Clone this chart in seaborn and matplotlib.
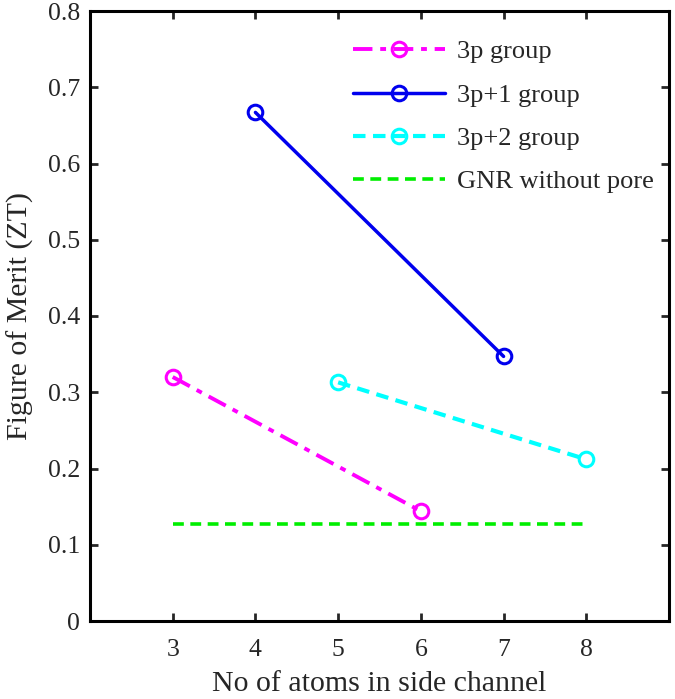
import matplotlib
matplotlib.use("Agg")
import matplotlib.pyplot as plt
import seaborn as sns
import pandas as pd
from matplotlib.ticker import FuncFormatter

# Data
x_3p = [3, 6]
y_3p = [0.320, 0.144]
x_3p1 = [4, 7]
y_3p1 = [0.667, 0.347]
x_3p2 = [5, 8]
y_3p2 = [0.313, 0.212]
x_gnr = [3, 8]
y_gnr = [0.127, 0.127]
x_ticks = [3, 4, 5, 6, 7, 8]
y_ticks = [0, 0.1, 0.2, 0.3, 0.4, 0.5, 0.6, 0.7, 0.8]

sns.set_theme(style="white")
plt.rcParams['font.family'] = ['Liberation Serif', 'DejaVu Serif']

fig = plt.figure(figsize=(6.75, 6.99), dpi=100)
ax = fig.add_axes([90 / 675, 1 - 621 / 699, 579 / 675, 610 / 699])

series = [
    ("3p group", x_3p, y_3p, "#ff00ff", (0, (5, 2, 1.5, 2)), "o", 2.8),
    ("3p+1 group", x_3p1, y_3p1, "#0000ee", "-", "o", 2.5),
    ("3p+2 group", x_3p2, y_3p2, "#00ffff", (0, (3, 1.8)), "o", 3.0),
    ("GNR without pore", x_gnr, y_gnr, "#00ee00", (0, (3, 1.8)), None, 2.6),
]

for name, xs, ys, col, ls, mk, lw in series:
    df = pd.DataFrame({"x": xs, "y": ys})
    kw = dict(marker=mk, markersize=10.5, markerfacecolor="none",
              markeredgecolor=col, markeredgewidth=2.2) if mk else {}
    sns.lineplot(data=df, x="x", y="y", ax=ax, color=col, linestyle=ls,
                 linewidth=lw, label=name, **kw)

ax.set_xlim(2, 9)
ax.set_ylim(0, 0.8)
ax.set_xticks(x_ticks)
ax.set_yticks(y_ticks)
ax.yaxis.set_major_formatter(FuncFormatter(lambda v, p: "0" if v == 0 else f"{v:.1f}"))
ax.tick_params(axis="both", direction="in", length=6, width=2, labelsize=18.5,
               top=True, right=True, bottom=True, left=True,
               labeltop=False, labelright=False)
ax.tick_params(axis="x", pad=13)
ax.tick_params(axis="y", pad=7)
for s in ax.spines.values():
    s.set_linewidth(2.2)
    s.set_color("black")

ax.set_xlabel("No of atoms in side channel", fontsize=21.5, labelpad=7)
ax.set_ylabel("Figure of Merit (ZT)", fontsize=21.5, labelpad=10)

leg = ax.legend(loc="upper left", frameon=False, fontsize=19, handlelength=3.5,
                labelspacing=0.75, handletextpad=0.45, borderpad=0, borderaxespad=0,
                bbox_to_anchor=((353 - 90) / 579, (621 - 40) / 610))

fig.savefig("out.png", dpi=100)
